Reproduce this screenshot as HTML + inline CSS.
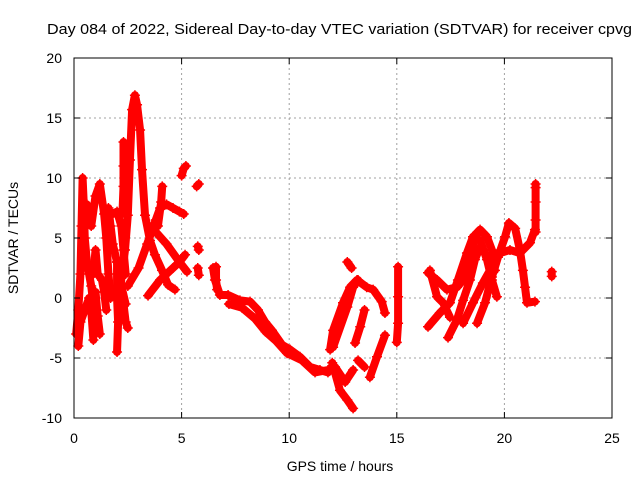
<!DOCTYPE html>
<html><head><meta charset="utf-8"><style>
body{margin:0;background:#fff}
svg{display:block;font-family:"Liberation Sans",sans-serif}
</style></head><body>
<svg id="chart" width="640" height="480">
<text x="47" y="34" font-size="15" textLength="585" lengthAdjust="spacingAndGlyphs">Day 084 of 2022, Sidereal Day-to-day VTEC variation (SDTVAR) for receiver cpvg</text>
<text x="340" y="471" font-size="14" text-anchor="middle">GPS time / hours</text>
<text x="18" y="238" font-size="14" text-anchor="middle" transform="rotate(-90 18 238)">SDTVAR / TECUs</text>
<g id="grid"></g>
<g id="marks"></g>
<g id="axes"></g>
</svg>
<script>
const xTicks=[0,5,10,15,20,25];
const yTicks=[-10,-5,0,5,10,15,20];
const tracks=[
[[0.1,-3],[0.2,-1],[0.3,2],[0.35,6],[0.4,10],[0.45,8],[0.5,5],[0.6,3],[0.8,1],[0.9,-0.5]],
[[0.2,-4],[0.3,-2],[0.5,-1],[0.7,0],[0.8,-1],[0.9,-3.5]],
[[0.6,7.8],[0.8,6],[1.0,8.5],[1.2,9.5],[1.4,7],[1.5,5],[1.6,2],[1.7,0]],
[[0.9,2],[1.0,4],[1.1,2],[1.3,1.5],[1.4,0.5],[1.5,-1]],
[[1.0,0.5],[1.1,-1.5],[1.2,-3]],
[[1.6,7.5],[1.7,6],[1.8,4.5],[2.0,3],[2.2,1],[2.4,-0.5]],
[[2.0,3],[2.0,0],[2.05,-2],[2.0,-4.5]],
[[1.8,7],[2.0,7.2],[2.2,6],[2.3,4],[2.4,2]],
[[2.3,-0.5],[2.4,-2],[2.5,-2.5]],
[[2.3,13],[2.3,11],[2.3,9.3],[2.25,7]],
[[2.14,0.7],[2.37,4],[2.5,6.9],[2.6,11.5],[2.7,15.7],[2.83,16.9],[2.93,16.1],[3.07,14],[3.16,10.7],[3.3,6.9],[3.53,4.8],[3.76,3.6],[4.09,2.3],[4.37,1.1],[4.69,0.7]],
[[2.5,1],[3.0,2.5],[3.4,4.5],[3.8,6.5],[4.0,7.5],[4.3,7.8],[4.6,7.5],[4.9,7.2],[5.1,7]],
[[3.44,0.2],[4.0,1.5],[4.6,2.5],[4.9,3],[5.16,3.6]],
[[3.6,5.9],[4.3,4.5],[4.9,3],[5.25,2.2]],
[[3.9,6],[4.05,8],[4.1,9.3]],
[[5.0,10.2],[5.1,10.8],[5.2,11]],
[[5.7,9.3],[5.8,9.5]],
[[5.75,4.3],[5.8,4]],
[[5.75,2.5],[5.8,1.9]],
[[6.6,2.6],[6.6,1.5],[6.65,0.7]],
[[6.46,2.5],[6.55,1.5],[6.78,0.25],[7.16,0.25],[7.71,-0.2],[8.18,-0.3],[8.55,-1],[8.88,-2],[9.2,-2.7],[9.67,-3.9],[10.04,-4.3],[10.5,-4.9],[10.97,-5.75],[11.43,-6],[11.8,-6.2],[12.04,-5.6]],
[[7.2,-0.5],[7.8,-0.8],[8.4,-1.7],[8.9,-2.8],[9.4,-3.6],[9.9,-4.6],[10.6,-5.2],[11.2,-6.2],[11.8,-6]],
[[11.9,-4.3],[12.04,-2.7],[12.5,-0.4],[12.83,0.9],[13.15,1.5],[13.6,0.9],[13.9,0.7],[14.3,-0.3],[14.45,-1.25]],
[[12.04,-4.1],[12.7,-0.75],[12.97,0.9],[13.2,1.5]],
[[13.06,-3.75],[13.3,-2.4],[13.5,-1]],
[[12.0,-5.4],[12.36,-7.7],[12.7,-8.5],[12.97,-9.2]],
[[12.13,-5.75],[12.6,-7],[12.97,-6]],
[[13.2,-5.2],[13.5,-5.75]],
[[13.75,-6.6],[14.08,-4.9],[14.45,-3.1]],
[[12.7,3],[12.9,2.5]],
[[15.06,2.6],[15.06,0.1],[15.06,-2.1],[15.0,-3.7]],
[[16.45,2.1],[16.87,1.5],[17.33,0.7],[17.8,0.9],[18.08,1.5],[18.4,3.2],[18.63,5.25],[18.87,5.7],[19.19,5.1],[19.42,4],[19.56,2.3]],
[[16.45,-2.4],[17.0,-1.25],[17.47,-0.4],[17.84,1.5],[18.26,3.75],[18.54,5.1],[18.87,4.8],[19.19,3.2],[19.42,1.5],[19.65,0.1]],
[[17.38,-3.3],[17.8,-1.8],[18.08,-0.2],[18.4,1.5],[18.63,3.2],[18.87,4.25]],
[[18.73,-2.1],[19.1,-0.4],[19.42,1.75],[19.7,3.4],[20.03,5.1],[20.21,6.25],[20.5,5.8],[20.72,4],[20.86,2.3],[20.96,0.9],[21.05,-0.4],[21.42,-0.3]],
[[18.08,-2.1],[18.54,-0.4],[19.0,1.25],[19.42,2.6],[19.8,3.75],[20.26,4],[20.72,3.75],[21.19,4.6],[21.42,5.7]],
[[16.54,2.3],[16.87,0.1],[17.15,-0.4],[17.47,-1.6]],
[[21.45,9.5],[21.45,9.2],[21.45,8],[21.45,6.5],[21.45,5.5]],
[[22.2,2.2],[22.2,1.8]]
];
const L=74,R=612,T=58,B=418;
const xs=t=>L+(t-0)/(25-0)*(R-L);
const ys=v=>B-(v+10)/(30)*(B-T);
const NS="http://www.w3.org/2000/svg";
const grid=document.getElementById('grid'),axes=document.getElementById('axes'),marks=document.getElementById('marks');
function mk(tag,attrs,parent){const e=document.createElementNS(NS,tag);for(const k in attrs)e.setAttribute(k,attrs[k]);parent.appendChild(e);return e;}
xTicks.forEach(t=>{const x=xs(t);
 if(t>0&&t<25){const g=mk('line',{x1:x,y1:T,x2:x,y2:B,stroke:'#a0a0a0','stroke-dasharray':'2,3'},grid);}
 const tk=mk('line',{x1:x,y1:B,x2:x,y2:B-6,stroke:'#000'},axes);
 mk('line',{x1:x,y1:T,x2:x,y2:T+6,stroke:'#000'},axes);
 const lb=mk('text',{x:x,y:B+25,'font-size':14,'text-anchor':'middle'},axes);lb.textContent=t;
 });
yTicks.forEach(v=>{const y=ys(v);
 if(v>-10&&v<20){const g=mk('line',{x1:L,y1:y,x2:R,y2:y,stroke:'#a0a0a0','stroke-dasharray':'2,3'},grid);}
 const tk=mk('line',{x1:L,y1:y,x2:L+6,y2:y,stroke:'#000'},axes);
 mk('line',{x1:R,y1:y,x2:R-6,y2:y,stroke:'#000'},axes);
 const lb=mk('text',{x:L-12,y:y+5,'font-size':14,'text-anchor':'end'},axes);lb.textContent=v;
 });
const fr=mk('rect',{x:L,y:T,width:R-L,height:B-T,fill:'none',stroke:'#000'},axes);

tracks.forEach(tr=>{
 const pl=mk('polyline',{points:tr.map(p=>xs(p[0])+','+ys(p[1])).join(' '),fill:'none',stroke:'#ff0000','stroke-width':8,'stroke-linejoin':'round','stroke-linecap':'round'},marks);
 
 
 tr.forEach(p=>{const x=xs(p[0]),y=ys(p[1]);
  const m=mk('path',{d:`M${x-5},${y}H${x+5}M${x},${y-5}V${y+5}`,stroke:'#ff0000','stroke-width':1.5},marks);
  
  });
});
</script>
</body></html>
